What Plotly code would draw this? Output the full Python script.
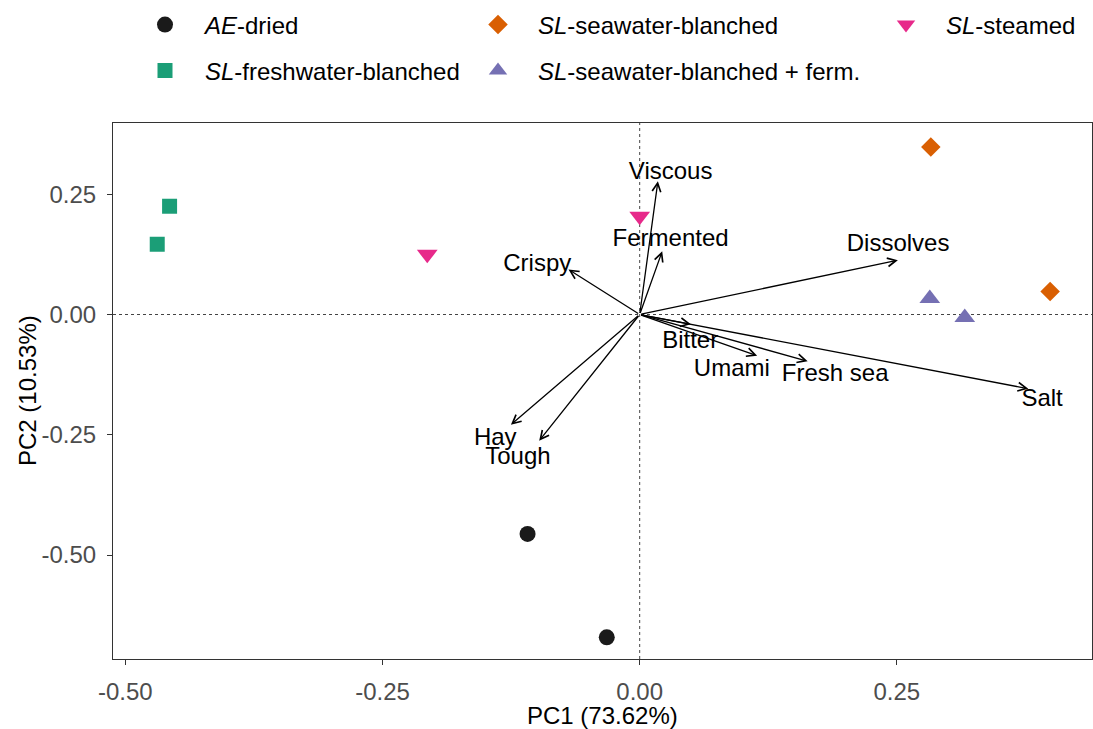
import plotly.graph_objects as go

# ---------------- data ----------------
group_names = ["<i>AE</i>-dried", "<i>SL</i>-freshwater-blanched", "<i>SL</i>-seawater-blanched",
               "<i>SL</i>-seawater-blanched + ferm.", "<i>SL</i>-steamed"]
ae_pc1 = [-0.109, -0.032]
ae_pc2 = [-0.456, -0.671]
fw_pc1 = [-0.457, -0.469]
fw_pc2 = [0.225, 0.146]
sw_pc1 = [0.283, 0.399]
sw_pc2 = [0.348, 0.048]
swf_pc1 = [0.282, 0.316]
swf_pc2 = [0.033, -0.006]
st_pc1 = [-0.2065, 0.000]
st_pc2 = [0.125, 0.204]

variables = ["Viscous", "Fermented", "Crispy", "Dissolves", "Bitter", "Umami", "Fresh sea", "Salt", "Hay", "Tough"]
load_pc1 = [0.0177, 0.0219, -0.0692, 0.251, 0.0498, 0.1142, 0.1633, 0.3778, -0.1252, -0.0977]
load_pc2 = [0.277, 0.1316, 0.0935, 0.113, -0.0202, -0.0856, -0.097, -0.1542, -0.2292, -0.2626]
label_pc1 = [0.0301, 0.0301, -0.0996, 0.2512, 0.0491, 0.0896, 0.190, 0.3912, -0.1404, -0.1184]
label_pc2 = [0.294, 0.1546, 0.1026, 0.144, -0.0574, -0.1156, -0.126, -0.1769, -0.259, -0.2974]

x_ticks = [-0.50, -0.25, 0.00, 0.25]
y_ticks = [-0.50, -0.25, 0.00, 0.25]
x_title = "PC1 (73.62%)"
y_title = "PC2 (10.53%)"

# ---------------- styles ----------------
FONT = "Liberation Sans, Arial, sans-serif"
W, H = 1093, 729
ML, MR, MT, MB = 113, 1, 123, 70
styles = [
    dict(symbol="circle", color="#1a1a1a", size=16),
    dict(symbol="square", color="#1B9E77", size=15),
    dict(symbol="diamond", color="#D95F02", size=15),
    dict(symbol="triangle-up", color="#7570B3", size=18),
    dict(symbol="triangle-down", color="#E7298A", size=18),
]
series = [(ae_pc1, ae_pc2), (fw_pc1, fw_pc2), (sw_pc1, sw_pc2), (swf_pc1, swf_pc2), (st_pc1, st_pc2)]
legend_ids = ["legend", "legend2", "legend3", "legend4", "legend5"]
# (left x px, center y px) of each legend entry
legend_pos = [(125, 25), (125, 71), (458, 25), (458, 71), (866, 25)]

fig = go.Figure()

for name, (xs, ys), st, lid in zip(group_names, series, styles, legend_ids):
    fig.add_trace(go.Scatter(
        x=xs, y=ys, mode="markers", name=name, legend=lid,
        marker=dict(symbol=st["symbol"], color=st["color"], size=st["size"], line=dict(width=0)),
    ))

# variable labels
fig.add_trace(go.Scatter(
    x=label_pc1, y=label_pc2, mode="text", text=variables, showlegend=False,
    textfont=dict(family=FONT, size=24, color="black"), textposition="middle center",
    hoverinfo="skip",
))

# loading arrows
for vx, vy in zip(load_pc1, load_pc2):
    fig.add_annotation(
        x=vx, y=vy, ax=0, ay=0, xref="x", yref="y", axref="x", ayref="y",
        text="", showarrow=True, arrowhead=5, arrowsize=1.3, arrowwidth=1.3,
        arrowcolor="black", standoff=0, startstandoff=0,
    )

# axis titles
pw, ph = W - ML - MR, H - MT - MB
fig.add_annotation(text=x_title, xref="paper", yref="paper", x=0.5, y=-(715 - (H - MB)) / ph,
                   xanchor="center", yanchor="middle", showarrow=False,
                   font=dict(family=FONT, size=24, color="black"))
fig.add_annotation(text=y_title, xref="paper", yref="paper", x=-(ML - 27) / pw, y=0.5,
                   xanchor="center", yanchor="middle", showarrow=False, textangle=-90,
                   font=dict(family=FONT, size=24, color="black"))

# dotted reference lines
fig.add_shape(type="line", xref="x", yref="paper", x0=0, x1=0, y0=0, y1=1,
              line=dict(color="#444444", width=1, dash="dot"), layer="below")
fig.add_shape(type="line", xref="paper", yref="y", x0=0, x1=1, y0=0, y1=0,
              line=dict(color="#444444", width=1, dash="dot"), layer="below")

legend_layout = {}
for lid, (lx, ly) in zip(legend_ids, legend_pos):
    legend_layout[lid] = dict(
        x=lx / W, y=1 - ly / H, xref="container", yref="container",
        xanchor="left", yanchor="middle", bgcolor="rgba(0,0,0,0)",
        font=dict(family=FONT, size=24, color="black"), itemwidth=70,
    )

fig.update_layout(
    width=W, height=H, autosize=False,
    margin=dict(l=ML, r=MR, t=MT, b=MB, autoexpand=False),
    paper_bgcolor="white", plot_bgcolor="white",
    font=dict(family=FONT, color="black"),
    showlegend=True,
    xaxis=dict(
        range=[-0.512, 0.4397], tickvals=x_ticks, ticktext=[f"{v:.2f}" for v in x_ticks],
        showgrid=False, zeroline=False, showline=True, mirror=True,
        linecolor="#333333", linewidth=1.2, ticks="outside", ticklen=5,
        tickcolor="#333333", tickwidth=1.2, ticklabelstandoff=6, automargin=False,
        tickfont=dict(family=FONT, size=24, color="#4D4D4D"),
    ),
    yaxis=dict(
        range=[-0.716, 0.398], tickvals=y_ticks, ticktext=[f"{v:.2f}" for v in y_ticks],
        showgrid=False, zeroline=False, showline=True, mirror=True,
        linecolor="#333333", linewidth=1.2, ticks="outside", ticklen=5,
        tickcolor="#333333", tickwidth=1.2, ticklabelstandoff=6, automargin=False,
        tickfont=dict(family=FONT, size=24, color="#4D4D4D"),
    ),
    **legend_layout,
)

fig.write_html(
    "out.html",
    config={"responsive": False, "displayModeBar": False},
    post_script="document.body.style.margin='0px';document.body.style.overflow='hidden';"
                "Plotly.relayout('{plot_id}', {width: %d, height: %d});" % (W, H),
)
